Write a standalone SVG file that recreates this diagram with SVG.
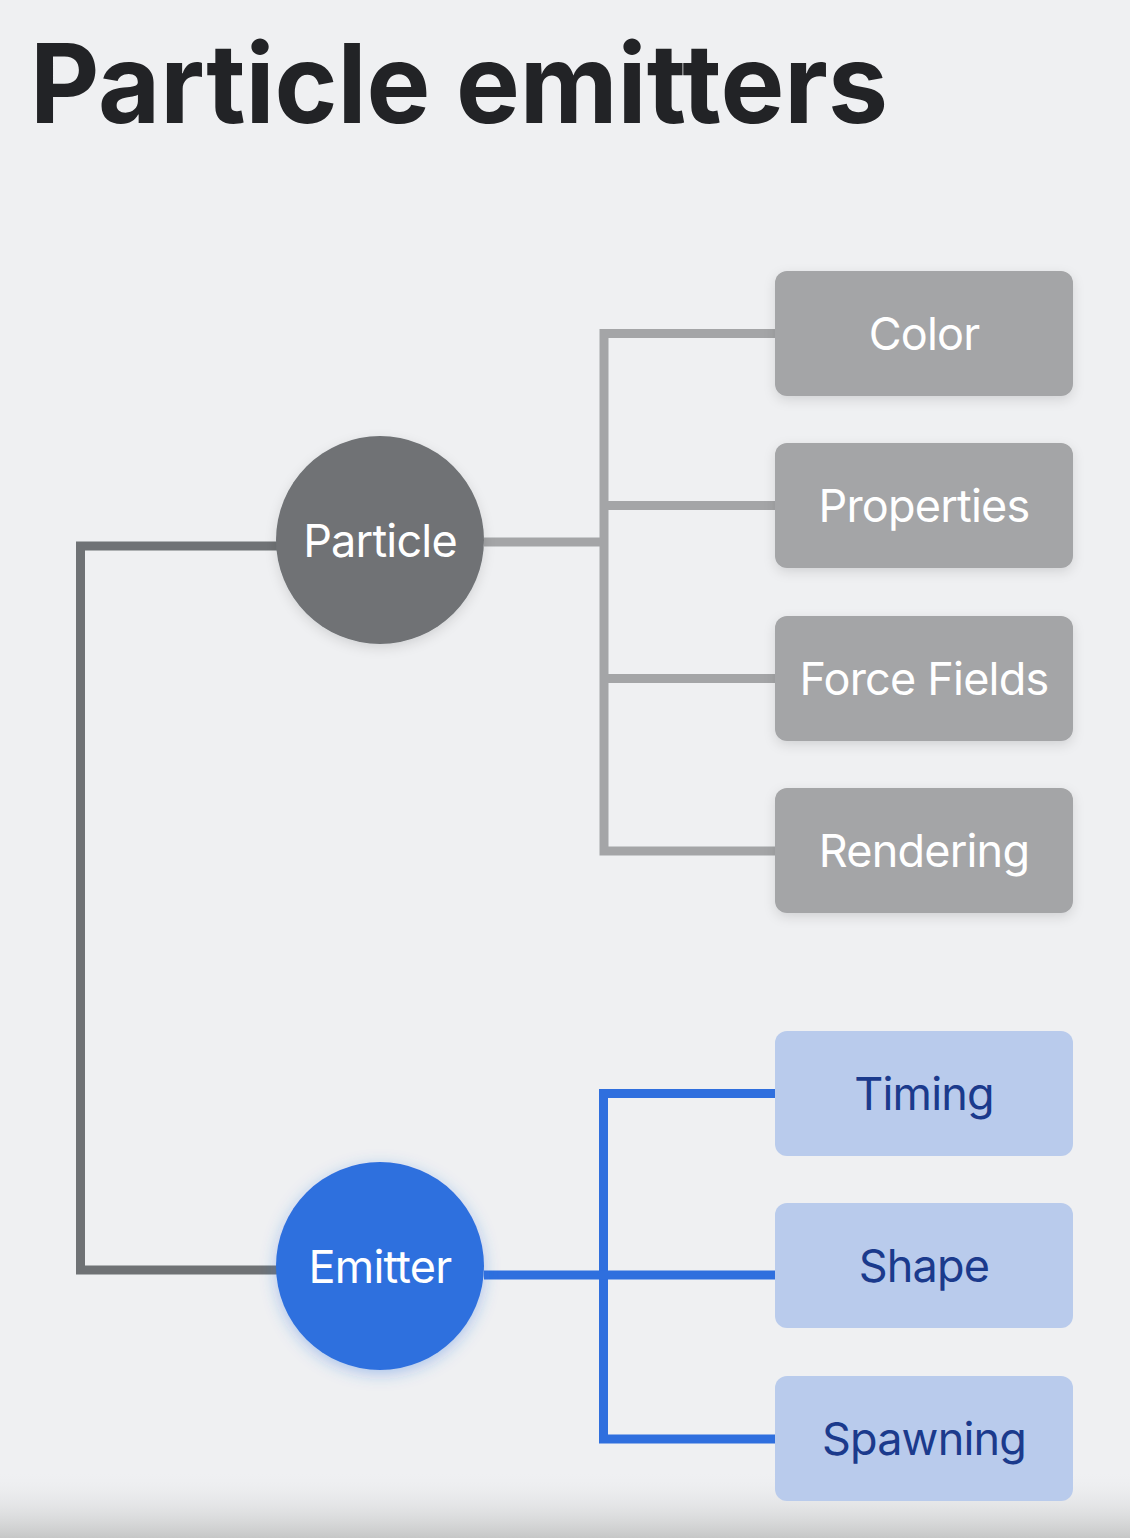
<svg xmlns="http://www.w3.org/2000/svg" width="1130" height="1538" viewBox="0 0 1130 1538">
<defs>
<linearGradient id="bottom" x1="0" y1="0" x2="0" y2="1">
<stop offset="0" stop-color="#eff0f2" stop-opacity="0"/>
<stop offset="1" stop-color="#c6c7c7"/>
</linearGradient>
<filter id="shadow" x="-20%" y="-20%" width="140%" height="150%">
<feDropShadow dx="0" dy="4" stdDeviation="6" flood-color="#000" flood-opacity="0.12"/>
</filter>
<filter id="glow" x="-30%" y="-30%" width="160%" height="160%">
<feDropShadow dx="0" dy="4" stdDeviation="8" flood-color="#2f6fde" flood-opacity="0.35"/>
</filter>
</defs>
<style>
.title{font-family:Inter,"Liberation Sans",sans-serif;font-weight:700;font-size:110px;fill:#222326}
.lbl{font-family:Inter,"Liberation Sans",sans-serif;font-size:45px;letter-spacing:-0.8px;text-anchor:middle}
.w{fill:#ffffff}
.b{fill:#1b3a8c}
.gbox{fill:#a4a5a7}
.bbox{fill:#b9cbec}
.gline{fill:none;stroke:#a4a5a7;stroke-width:9}
.dline{fill:none;stroke:#6f7275;stroke-width:9}
.bline{fill:none;stroke:#2f6fde;stroke-width:9}
</style>
<rect x="0" y="0" width="1130" height="1538" fill="#eff0f2"/>
<rect x="0" y="1470" width="1130" height="68" fill="url(#bottom)"/>
<text class="title" x="30" y="123" textLength="858" lengthAdjust="spacingAndGlyphs">Particle emitters</text>
<g id="connectors">
<path class="dline" d="M280,546 H80.5 V1270 H280"/>
<path class="gline" d="M484,542 H604"/>
<path class="gline" d="M776,333.5 H604 V851 H776"/>
<path class="gline" d="M604,505.5 H776"/>
<path class="gline" d="M604,678.5 H776"/>
<path class="bline" d="M776,1093.5 H603.5 V1439 H776"/>
<path class="bline" d="M484,1275 H776"/>
</g>
<g id="particle">
<circle cx="380" cy="540" r="104" fill="#6f7275" filter="url(#shadow)"/>
<text class="lbl w" x="380" y="557">Particle</text>
</g>
<g id="emitter">
<circle cx="380" cy="1266" r="104" fill="#2f6fde" filter="url(#glow)"/>
<text class="lbl w" x="380" y="1283">Emitter</text>
</g>
<g id="color">
<rect class="gbox" x="775" y="271" width="298" height="125" rx="12" filter="url(#shadow)"/>
<text class="lbl w" x="924" y="350">Color</text>
</g>
<g id="properties">
<rect class="gbox" x="775" y="443" width="298" height="125" rx="12" filter="url(#shadow)"/>
<text class="lbl w" x="924" y="522">Properties</text>
</g>
<g id="forcefields">
<rect class="gbox" x="775" y="616" width="298" height="125" rx="12" filter="url(#shadow)"/>
<text class="lbl w" x="924" y="695">Force Fields</text>
</g>
<g id="rendering">
<rect class="gbox" x="775" y="788" width="298" height="125" rx="12" filter="url(#shadow)"/>
<text class="lbl w" x="924" y="867">Rendering</text>
</g>
<g id="timing">
<rect class="bbox" x="775" y="1031" width="298" height="125" rx="12"/>
<text class="lbl b" x="924" y="1110">Timing</text>
</g>
<g id="shape">
<rect class="bbox" x="775" y="1203" width="298" height="125" rx="12"/>
<text class="lbl b" x="924" y="1282">Shape</text>
</g>
<g id="spawning">
<rect class="bbox" x="775" y="1376" width="298" height="125" rx="12"/>
<text class="lbl b" x="924" y="1455">Spawning</text>
</g>
</svg>
